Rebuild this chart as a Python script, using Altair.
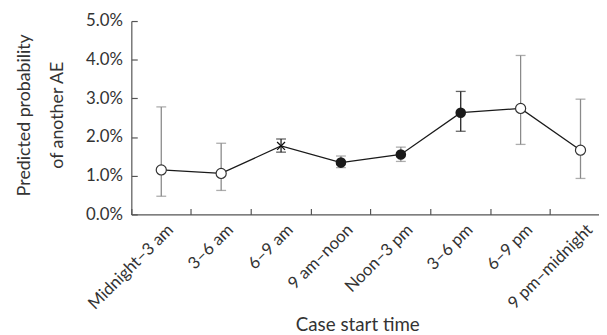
import altair as alt
import pandas as pd

categories = ["Midnight–3 am", "3–6 am", "6–9 am", "9 am–noon",
              "Noon–3 pm", "3–6 pm", "6–9 pm", "9 pm–midnight"]
estimate = [1.15, 1.06, 1.77, 1.34, 1.55, 2.63, 2.74, 1.66]   # percent
lower = [0.47, 0.62, 1.61, 1.21, 1.37, 2.15, 1.81, 0.93]
upper = [2.78, 1.84, 1.95, 1.51, 1.74, 3.18, 4.11, 2.98]
marker = ["open", "open", "ref", "filled", "filled", "filled", "open", "open"]
bar_tone = ["light", "light", "dark", "light", "light", "dark", "light", "light"]
y_ticks = [0.0, 0.01, 0.02, 0.03, 0.04, 0.05]

df = pd.DataFrame({
    "period": categories,
    "est": [v / 100 for v in estimate],
    "lo": [v / 100 for v in lower],
    "hi": [v / 100 for v in upper],
    "marker": marker,
    "tone": bar_tone,
})

FONT = "Lato"
AX = "#555555"
TXT = "#333333"

def xscale():
    return alt.Scale(type="band", domain=categories, range=[0, 485.6],
                     paddingInner=0, paddingOuter=0)

def yscale():
    return alt.Scale(domain=[0, 0.05], nice=False, zero=True)

# x axis of the main layer: inward ticks only
x_main = alt.X("period:N", sort=categories, scale=xscale(),
               axis=alt.Axis(orient="bottom", offset=-6, ticks=True, tickSize=6,
                             tickColor=AX, tickWidth=1.2, bandPosition=0,
                             labels=False, domain=False, grid=False, title=None))

y_axis_main = alt.Axis(orient="left", format=".1%", values=y_ticks, ticks=False,
                       tickSize=0, labelPadding=9, labelFontSize=17,
                       domain=True, domainColor=AX, domainWidth=1.2, grid=False,
                       title=["Predicted probability", "of another AE"],
                       titleFontSize=18, titleLineHeight=33, titleAngle=-90,
                       titleX=-103, titleY=95, titleAlign="center",
                       titleBaseline="alphabetic")

def Y(field):
    return alt.Y(f"{field}:Q", scale=yscale(), axis=y_axis_main)

base = alt.Chart(df)
tone_color = alt.Color("tone:N", scale=alt.Scale(domain=["light", "dark"],
                                                 range=["#8a8a8a", "#222222"]),
                       legend=None)

bars = base.mark_rule(strokeWidth=1.3).encode(x=x_main, y=Y("lo"), y2="hi:Q", color=tone_color)
cap_lo = base.mark_tick(orient="horizontal", size=10, thickness=1.3).encode(
    x=x_main, y=Y("lo"), color=tone_color)
cap_hi = base.mark_tick(orient="horizontal", size=10, thickness=1.3).encode(
    x=x_main, y=Y("hi"), color=tone_color)
line = base.mark_line(color="#1a1a1a", strokeWidth=1.3).encode(x=x_main, y=Y("est"))
open_pts = base.transform_filter(alt.datum.marker == "open").mark_point(
    shape="circle", filled=True, fill="white", stroke="#333333", strokeWidth=1.2,
    size=105, opacity=1).encode(x=x_main, y=Y("est"))
filled_pts = base.transform_filter(alt.datum.marker == "filled").mark_point(
    shape="circle", filled=True, color="#1a1a1a", size=115, opacity=1).encode(
    x=x_main, y=Y("est"))
ref_pts = base.transform_filter(alt.datum.marker == "ref").mark_point(
    shape="M-1,-1L1,1M-1,1L1,-1", filled=False, stroke="#111111", strokeWidth=1.3,
    size=64, opacity=1).encode(x=x_main, y=Y("est"))

main = alt.layer(bars, cap_lo, cap_hi, line, open_pts, filled_pts, ref_pts)

# frame layer: x domain line + rotated labels + title; inward y ticks
frame = base.mark_point(opacity=0).encode(
    x=alt.X("period:N", sort=categories, scale=xscale(),
            axis=alt.Axis(orient="bottom", domain=True, domainColor=AX, domainWidth=1.2,
                          ticks=False, tickSize=0, labels=True, labelAngle=-45,
                          labelOffset=4, labelPadding=7, labelFontSize=17,
                          grid=False, title="Case start time", titleFontSize=19,
                          titleX=229, titleY=118, titleAlign="center",
                          titleBaseline="alphabetic")),
    y=alt.Y("est:Q", scale=yscale(),
            axis=alt.Axis(orient="left", offset=-6, values=y_ticks, ticks=True,
                          tickSize=6, tickColor=AX, tickWidth=1.2, labels=False,
                          domain=False, grid=False, title=None)),
)

chart = alt.layer(main, frame).resolve_scale(x="independent", y="independent").properties(
    width=474, height=196,
    autosize=alt.AutoSizeParams(type="none"),
    padding={"left": 125, "top": 11, "right": 0, "bottom": 120},
).configure_view(stroke=None).configure_axis(
    labelFont=FONT, titleFont=FONT, labelColor=TXT, titleColor=TXT,
    titleFontWeight="normal",
)

chart.save("out.html", embed_options={"renderer": "svg", "actions": False})
